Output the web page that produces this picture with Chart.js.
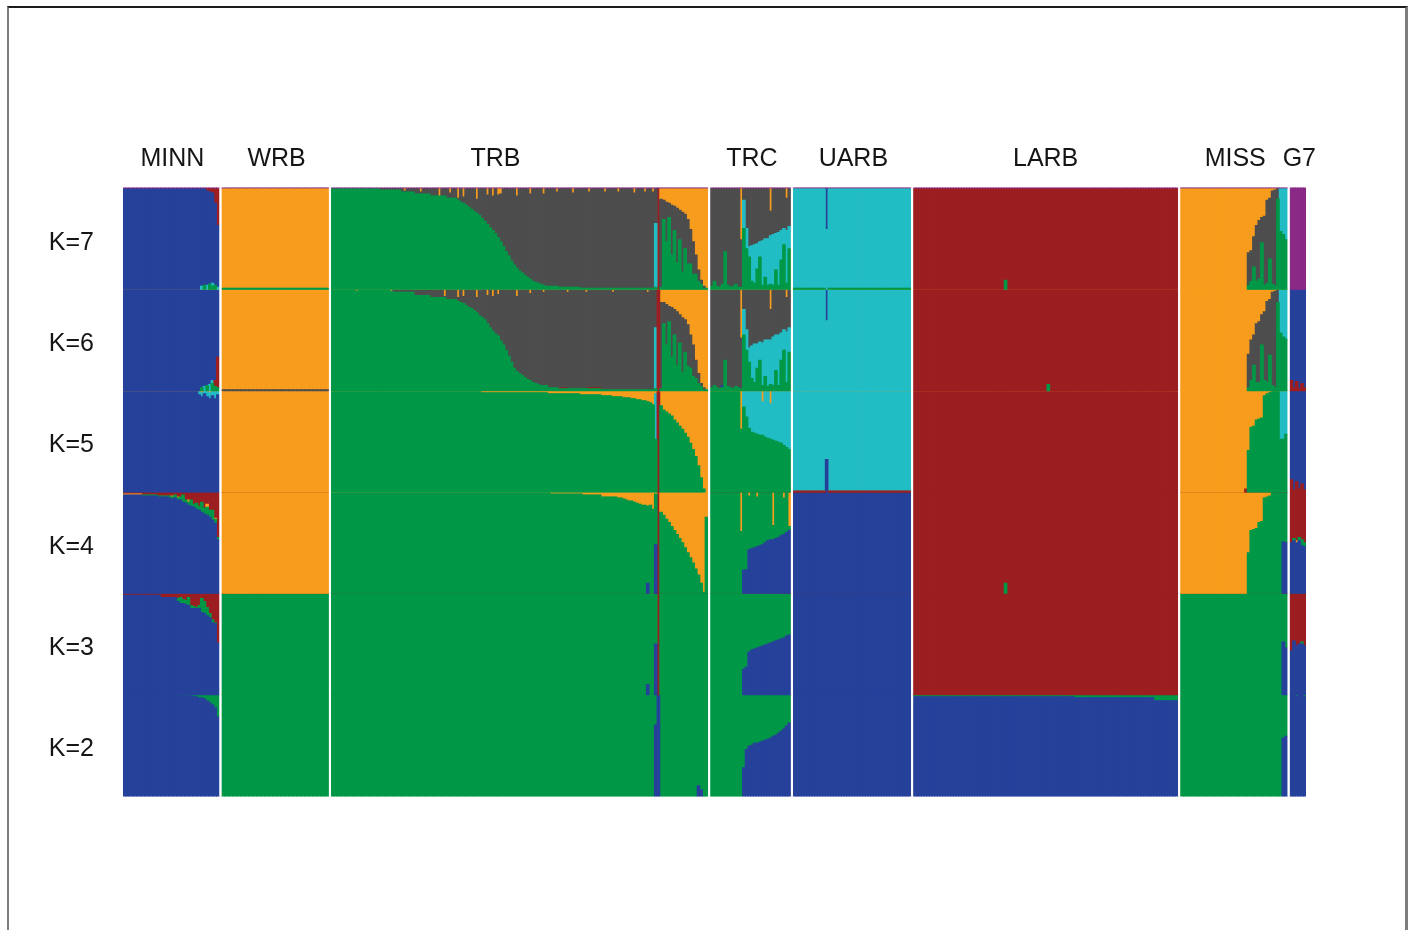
<!DOCTYPE html>
<html>
<head>
<meta charset="utf-8">
<script src="https://cdn.jsdelivr.net/npm/chart.js@4.4.1/dist/chart.umd.min.js"></script>
<style>
  html, body { margin: 0; padding: 0; background: #ffffff; }
  #wrap { position: relative; width: 1411px; height: 930px; overflow: hidden; background: #ffffff; }
  #chart { position: absolute; left: 0; top: 0; }
  #frame {
    position: absolute; left: 7px; top: 6px; width: 1396px; height: 1000px;
    border-top: 2px solid #1c1c1c; border-left: 2px solid #7d7d7d; border-right: 3px solid #7d7d7d;
    pointer-events: none;
  }
</style>
</head>
<body>
<div id="wrap">
  <canvas id="chart" width="1411" height="930"></canvas>
  <div id="frame"></div>
</div>
<script>
// Sampling groups, left to right, and the number of individuals in each
const populations = ['MINN', 'WRB', 'TRB', 'TRC', 'UARB', 'LARB', 'MISS', 'G7'];
const sampleSizes = [36, 40, 141, 30, 44, 99, 40, 6];
// individuals the group name is centred over (TRB's name sits over its first 122)
const labelSpans = [36, 40, 122, 30, 44, 99, 40, 6];

// Cluster colours: b blue, g green, c cyan, k grey, o orange, r red, p purple
const clusterColors = {
  b: '#26419a', g: '#009847', c: '#22bdc4', k: '#4d4d4d',
  o: '#f89c1d', r: '#9c1e21', p: '#8a2a86'
};

const rowLabels = ['K=7', 'K=6', 'K=5', 'K=4', 'K=3', 'K=2'];
// bottom-to-top stacking order of the clusters in each run
const stackOrders = [
  ['g', 'c', 'b', 'k', 'o', 'r', 'p'],
  ['g', 'r', 'c', 'b', 'k', 'o'],
  ['g', 'r', 'b', 'c', 'o'],
  ['b', 'g', 'o', 'r'],
  ['b', 'g', 'r'],
  ['b', 'g']
];

// Membership (%) per individual, as runs: [count, main cluster, {other clusters: %}]
// the main cluster takes whatever the others leave of 100.
const K7 = {
  MINN: [[29,'b',{p:1}],[1,'b',{c:3,p:1}],[1,'b',{g:4,p:1}],[1,'b',{c:4,r:2,p:1}],[1,'b',{g:5,r:3,p:1}],
         [1,'b',{g:3,c:3,r:4,p:1}],[1,'b',{g:4,r:14,p:1}],[1,'b',{c:2,r:36,p:1}]],
  WRB: [[40,'o',{g:1,p:1}]],
  TRB: [[18,'g',{p:1}],[8,'g',{k:1,p:1}],[1,'g',{k:3,p:1}],[1,'g',{k:1,o:2,p:1}],[3,'g',{k:3,p:1}],
        [2,'g',{k:5,p:1}],[1,'g',{k:2,o:3,p:1}],[3,'g',{k:5,p:1}],[3,'g',{k:7,p:1}],[1,'g',{o:7,p:1}],
        [2,'g',{k:7,p:1}],[1,'g',{k:9,p:1}],[1,'g',{k:5,o:4,p:1}],[2,'g',{k:9,p:1}],
        [1,'k',{g:88,o:9,p:1}],[1,'k',{g:86,p:1}],[1,'k',{g:85,o:8,p:1}],[1,'k',{g:83,p:1}],
        [1,'k',{g:81,p:1}],[1,'k',{g:79,p:1}],[1,'k',{g:77,p:1}],[1,'k',{g:75,o:10,p:1}],
        [1,'k',{g:73,p:1}],[1,'k',{g:70,p:1}],[1,'k',{g:67,p:1}],[1,'k',{g:64,o:6,p:1}],
        [1,'k',{g:61,p:1}],[1,'k',{g:58,o:7,p:1}],[1,'k',{g:55,p:1}],[1,'k',{g:51,o:6,p:1}],
        [1,'k',{g:47,o:5,p:1}],[1,'k',{g:42,p:1}],[1,'k',{g:37,p:1}],[1,'k',{g:33,p:1}],
        [1,'k',{g:28,p:1}],[1,'k',{g:24,p:1}],[1,'k',{g:21,o:7,p:1}],[1,'k',{g:18,p:1}],
        [1,'k',{g:16,p:1}],[1,'k',{g:14,p:1}],[1,'k',{g:12,p:1}],[1,'k',{g:10,o:5,p:1}],
        [1,'k',{g:8,p:1}],[1,'k',{g:7,p:1}],[1,'k',{g:6,p:1}],[1,'k',{g:5,p:1}],[1,'k',{g:4,o:5,p:1}],
        [4,'k',{g:3,p:1}],[1,'k',{g:3,o:3,p:1}],[5,'k',{g:2,p:1}],[1,'k',{g:2,o:4,p:1}],
        [2,'k',{g:2,p:1}],[3,'k',{g:1,p:1}],[1,'k',{g:1,o:3,p:1}],[5,'k',{g:1,p:1}],
        [1,'k',{g:1,o:3,p:1}],[4,'k',{g:1,p:1}],[1,'k',{g:1,o:3,p:1}],[5,'k',{g:1,p:1}],
        [1,'k',{g:1,o:4,p:1}],[3,'k',{g:1,p:1}],[1,'k',{g:1,o:3,p:1}],[2,'k',{g:1,p:1}],
        [1,'k',{g:1,o:3,p:1}],[1,'k',{g:2,c:63,p:1}],[1,'r',{p:1}],
        [1,'k',{g:2,o:10,p:1}],[1,'k',{g:69,o:11,p:1}],[1,'k',{g:47,o:13,p:1}],[1,'k',{g:71,o:14,p:1}],
        [1,'k',{g:34,o:16,p:1}],[1,'k',{g:58,o:17,p:1}],[1,'k',{g:26,o:19,p:1}],[1,'k',{g:49,o:21,p:1}],
        [1,'k',{g:17,o:23,p:1}],[1,'k',{g:40,o:25,p:1}],[1,'k',{g:25,o:30,p:1}],[1,'k',{g:25,o:40,p:1}],
        [1,'k',{g:15,o:52,p:1}],[1,'k',{g:15,o:65,p:1}],[1,'k',{g:8,o:80,p:1}],[1,'k',{g:5,o:90,p:1}],
        [1,'o',{k:2,g:1,p:1}],[1,'o',{g:1,p:1}]],
  TRC: [[1,'k',{g:3,p:1}],[1,'k',{g:8,p:1}],[1,'k',{g:3,p:1}],[1,'k',{g:2,p:1}],[1,'k',{g:5,p:1}],
        [1,'k',{g:37,p:1}],[1,'k',{g:4,p:1}],[1,'k',{g:2,p:1}],[1,'k',{g:3,p:1}],[1,'k',{g:5,p:1}],
        [1,'k',{g:2,p:1}],[1,'k',{g:2,o:50,p:1}],[1,'k',{g:60,c:28,p:1}],[1,'k',{g:40,c:20,p:1}],
        [1,'k',{g:32,c:10,p:1}],[1,'k',{g:8,c:35,p:1}],[1,'k',{g:6,c:38,p:1}],[1,'k',{g:20,c:25,p:1}],
        [1,'k',{g:32,c:15,p:1}],[1,'k',{g:4,c:44,p:1}],[1,'k',{g:12,c:38,p:1}],[1,'k',{g:4,c:46,p:1}],
        [1,'k',{g:5,c:48,o:22,p:1}],[1,'k',{g:4,c:50,p:1}],[1,'k',{g:19,c:36,p:1}],[1,'k',{g:4,c:52,p:1}],
        [1,'k',{g:29,c:29,p:1}],[1,'k',{g:44,c:16,p:1}],[1,'k',{g:6,c:52,o:9,p:1}],[1,'k',{g:40,c:22,p:1}]],
  UARB: [[12,'c',{g:1,p:1}],[1,'c',{b:40,p:1}],[31,'c',{g:1,p:1}]],
  LARB: [[34,'r',{p:1}],[1,'r',{g:9,p:1}],[64,'r',{p:1}]],
  MISS: [[25,'o',{p:1}],[1,'o',{k:32,g:4,p:1}],[1,'o',{k:30,g:8,p:1}],[1,'o',{k:30,g:22,p:1}],
         [1,'o',{k:55,g:8,p:1}],[1,'o',{k:58,g:10,p:1}],[1,'o',{k:25,g:46,p:1}],[1,'o',{k:68,g:4,p:1}],
         [1,'o',{k:82,g:6,p:1}],[1,'o',{k:60,g:30,p:1}],[1,'k',{o:2,g:5,p:1}],[1,'k',{o:1,g:3,p:1}],
         [1,'g',{k:10,p:1}],[1,'g',{c:42,p:1}],[1,'g',{c:45,p:1}],[1,'g',{c:50,p:1}]],
  G7: [[6,'p']]
};

const K6 = {
  MINN: [[29,'b',{o:1}],[1,'b',{g:3,o:1}],[1,'b',{c:4,o:1}],[1,'b',{g:5,o:1}],[1,'b',{c:6,o:1}],
         [1,'b',{g:7,c:3,o:1}],[1,'b',{g:4,r:6,o:1}],[1,'b',{g:3,r:30,o:1}]],
  WRB: [[40,'o',{k:1}]],
  TRB: [[9,'g',{o:1}],[1,'g',{o:2}],[12,'g',{o:1}],[1,'g',{o:2}],[8,'g',{k:2,o:1}],[6,'g',{k:5,o:1}],
        [5,'g',{k:7,o:1}],[1,'g',{k:1,o:7}],[4,'g',{k:9,o:1}],
        [1,'k',{g:88,o:8}],[1,'k',{g:87,o:1}],[1,'k',{g:86,o:7}],[1,'k',{g:84,o:1}],[1,'k',{g:82,o:1}],
        [1,'k',{g:81,o:1}],[1,'k',{g:79,o:1}],[1,'k',{g:77,o:8}],[1,'k',{g:74,o:1}],[1,'k',{g:72,o:1}],
        [1,'k',{g:70,o:1}],[1,'k',{g:66,o:6}],[1,'k',{g:62,o:1}],[1,'k',{g:59,o:7}],[1,'k',{g:56,o:1}],
        [1,'k',{g:54,o:5}],[1,'k',{g:49,o:1}],[1,'k',{g:45,o:1}],[1,'k',{g:40,o:1}],[1,'k',{g:34,o:1}],
        [1,'k',{g:28,o:1}],[1,'k',{g:22,o:1}],[1,'k',{g:19,o:7}],[1,'k',{g:17,o:1}],[1,'k',{g:15,o:1}],
        [1,'k',{g:13,o:1}],[1,'k',{g:11,o:1}],[1,'k',{g:10,o:4}],[1,'k',{g:8,o:1}],[1,'k',{g:7,o:1}],
        [1,'k',{g:6,o:1}],[1,'k',{g:5,o:1}],[1,'k',{g:5,o:3}],[1,'k',{g:5,o:1}],
        [4,'k',{g:3,o:1}],[3,'k',{g:2,r:1,o:1}],[1,'k',{g:2,o:3}],[6,'k',{g:2,o:1}],[1,'k',{g:2,o:3}],
        [5,'k',{g:2,r:1,o:1}],[4,'k',{g:1,o:1}],[1,'k',{g:1,o:3}],[12,'k',{g:1,o:1}],[1,'k',{g:1,o:3}],
        [2,'k',{g:1,o:1}],[1,'k',{g:2,c:60,o:1}],[1,'r',{o:1}],
        [1,'k',{g:2,o:13}],[1,'k',{g:66,o:13}],[1,'k',{g:45,o:15}],[1,'k',{g:68,o:17}],[1,'k',{g:33,o:18}],
        [1,'k',{g:55,o:20}],[1,'k',{g:25,o:22}],[1,'k',{g:47,o:25}],[1,'k',{g:18,o:28}],[1,'k',{g:38,o:30}],
        [1,'k',{g:24,o:35}],[1,'k',{g:22,o:45}],[1,'k',{g:14,o:55}],[1,'k',{g:12,o:70}],[1,'k',{g:7,o:83}],
        [1,'k',{g:4,o:93}],[1,'o',{k:2,g:1}],[1,'o',{g:1}]],
  TRC: [[1,'k',{g:3,o:1}],[1,'k',{g:5,o:1}],[1,'k',{g:3,o:1}],[1,'k',{g:2,o:1}],[1,'k',{g:3,b:2,o:1}],
        [1,'k',{g:30,o:1}],[1,'k',{g:4,o:1}],[1,'k',{g:3,o:1}],[1,'k',{g:2,o:1}],[1,'k',{g:4,o:1}],
        [1,'k',{g:3,o:1}],[1,'k',{g:2,o:48}],[1,'k',{g:55,c:25,o:1}],[1,'k',{g:40,c:20,o:1}],
        [1,'k',{g:28,c:14,o:1}],[1,'k',{g:12,c:32,o:1}],[1,'k',{g:8,c:38,o:1}],[1,'k',{g:22,c:24,o:1}],
        [1,'k',{g:30,c:18,o:1}],[1,'k',{g:5,c:42,o:1}],[1,'k',{g:14,c:36,o:1}],[1,'k',{g:4,c:46,o:1}],
        [1,'k',{g:6,c:44,o:20}],[1,'k',{g:5,c:48,o:1}],[1,'k',{g:20,c:35,o:1}],[1,'k',{g:5,c:50,o:1}],
        [1,'k',{g:30,c:27,o:1}],[1,'k',{g:40,c:20,o:1}],[1,'k',{g:8,c:50,o:8}],[1,'k',{g:38,c:24,o:1}]],
  UARB: [[12,'c',{o:1}],[1,'c',{b:30,o:1}],[31,'c',{o:1}]],
  LARB: [[50,'r',{o:1}],[1,'r',{g:6,o:1}],[48,'r',{o:1}]],
  MISS: [[25,'o'],[1,'o',{k:33,g:3}],[1,'o',{k:40,g:10}],[1,'o',{k:30,g:25}],[1,'o',{k:58,g:8}],
         [1,'o',{k:60,g:8}],[1,'o',{k:30,g:45}],[1,'o',{k:68,g:10}],[1,'o',{k:80,g:8}],[1,'o',{k:55,g:35}],
         [1,'k',{o:3,g:5}],[1,'k',{o:2,g:3}],[1,'g',{k:12,o:1}],[1,'g',{c:42,o:1}],[1,'g',{c:46,o:1}],
         [1,'g',{c:48,o:1}]],
  G7: [[1,'b',{r:10}],[1,'b',{r:3}],[1,'b',{r:9}],[1,'b',{r:2}],[1,'b',{r:7}],[1,'b',{r:3}]]
};

const K5 = {
  MINN: [[28,'b',{o:1}],[1,'b',{c:3,o:1}],[1,'b',{c:4,o:2}],[1,'b',{c:2,o:1}],[1,'b',{c:5,o:1}],
         [1,'b',{c:6,o:2}],[1,'b',{c:4,o:1}],[1,'b',{c:7,o:1}],[1,'b',{c:3,o:1}]],
  WRB: [[40,'o']],
  TRB: [[56,'g',{o:1}],[25,'g',{o:2}],[12,'g',{o:3}],[8,'g',{o:4}],[4,'g',{o:5}],[4,'g',{o:6}],
        [3,'g',{o:7}],[2,'g',{o:8}],[2,'g',{o:9}],[2,'g',{o:10}],[1,'g',{o:11}],[1,'g',{o:12}],
        [1,'g',{o:14}],[1,'g',{c:45,o:3}],[1,'r',{o:1}],
        [1,'g',{o:15}],[1,'g',{o:19}],[1,'g',{o:21}],[1,'g',{o:23}],[1,'g',{o:25}],[1,'g',{o:29}],
        [1,'g',{o:32}],[1,'g',{o:35}],[1,'g',{o:38}],[1,'g',{o:42}],[1,'g',{o:46}],[1,'g',{o:52}],
        [1,'g',{o:58}],[1,'g',{o:65}],[1,'g',{o:74}],[1,'g',{o:86}],[1,'g',{o:97}],[1,'o']],
  TRC: [[11,'g',{o:1}],[1,'g',{o:38}],[1,'g',{c:15,o:1}],[1,'g',{c:25,o:1}],[1,'g',{c:36,o:1}],
        [1,'g',{c:40,o:1}],[1,'g',{c:41,o:1}],[1,'g',{c:42,o:1}],[1,'g',{c:43,o:1}],[1,'g',{c:33,o:11}],
        [1,'g',{c:45,o:1}],[1,'g',{c:46,o:1}],[1,'g',{c:35,o:13}],[1,'g',{c:48,o:1}],[1,'g',{c:49,o:1}],
        [1,'g',{c:50,o:1}],[1,'g',{c:51,o:1}],[1,'g',{c:53,o:1}],[1,'g',{c:55,o:1}],[1,'g',{c:57,o:1}]],
  UARB: [[12,'c',{r:1,o:1}],[1,'c',{b:32,o:1}],[31,'c',{r:1,o:1}]],
  LARB: [[99,'r',{o:1}]],
  MISS: [[24,'o'],[1,'o',{r:3}],[1,'o',{g:41}],[1,'o',{g:64}],[1,'o',{g:65}],[1,'o',{g:71}],
         [1,'o',{g:72}],[1,'o',{g:73}],[1,'g',{o:5}],[1,'g',{o:3}],[1,'g',{o:2}],[3,'g',{o:1}],
         [1,'g',{c:47,o:1}],[1,'g',{c:47,o:1}],[1,'g',{c:42,o:1}]],
  G7: [[1,'b',{r:12}],[1,'b',{r:2}],[1,'b',{r:10}],[1,'b',{r:3}],[1,'b',{r:8}],[1,'b',{r:2}]]
};

const K4 = {
  MINN: [[7,'b',{r:2,o:1}],[6,'b',{g:1,r:3}],[4,'b',{g:1,r:4}],[1,'b',{g:2,r:4}],[1,'b',{g:2,o:1,r:4}],
         [1,'b',{g:3,r:3}],[1,'b',{g:2,o:1,r:5}],[1,'b',{g:3,r:5}],[1,'b',{g:7,r:3}],[1,'b',{g:3,r:8}],
         [1,'b',{g:3,o:2,r:8}],[1,'b',{g:6,r:8}],[1,'b',{g:3,r:12}],[1,'b',{g:6,r:11}],[1,'b',{g:4,r:14}],
         [1,'b',{g:10,r:10}],[1,'b',{g:6,r:16}],[1,'b',{g:8,o:3,r:12}],[1,'b',{g:7,r:18}],
         [1,'b',{g:10,r:18}],[1,'b',{g:4,o:1,r:26}],[1,'b',{g:2,r:45}]],
  WRB: [[40,'o',{r:1}]],
  TRB: [[82,'g',{o:1}],[12,'g',{o:2}],[7,'g',{o:3}],[6,'g',{o:5}],[2,'g',{o:6}],[1,'g',{o:7}],
        [1,'g',{o:8}],[2,'g',{o:9}],[1,'g',{o:10}],[1,'g',{o:11}],[1,'g',{o:12}],[2,'g',{o:13}],
        [1,'g',{b:10,o:14}],[1,'g',{o:13}],[1,'g',{o:17}],[1,'g',{b:48,o:2}],[1,'r'],
        [1,'g',{o:20}],[1,'g',{o:23}],[1,'g',{o:27}],[1,'g',{o:30}],[1,'g',{o:34}],[1,'g',{o:38}],
        [1,'g',{o:42}],[1,'g',{o:46}],[1,'g',{o:50}],[1,'g',{o:55}],[1,'g',{o:60}],[1,'g',{o:65}],
        [1,'g',{o:70}],[1,'g',{o:76}],[1,'g',{o:82}],[1,'g',{o:90}],[1,'o',{g:1}],[1,'g',{o:25}]],
  TRC: [[11,'g',{r:1}],[1,'g',{o:38,r:1}],[1,'g',{b:23,r:1}],[1,'g',{b:23,r:1}],[1,'g',{b:43,o:3,r:1}],
        [1,'g',{b:44,r:1}],[1,'g',{b:45,r:1}],[1,'g',{b:46,o:4,r:1}],[1,'g',{b:47,r:1}],[1,'g',{b:48,r:1}],
        [1,'g',{b:50,r:1}],[1,'g',{b:52,r:1}],[1,'g',{b:53,r:1}],[1,'g',{b:53,o:32,r:1}],[1,'g',{b:54,r:1}],
        [1,'g',{b:55,r:1}],[1,'g',{b:57,r:1}],[1,'g',{b:58,o:5,r:1}],[1,'g',{b:60,r:1}],[1,'g',{b:62,o:33,r:1}]],
  UARB: [[44,'b',{r:1}]],
  LARB: [[34,'r'],[1,'r',{g:10}],[64,'r']],
  MISS: [[25,'o',{r:1}],[1,'o',{g:40,r:1}],[1,'o',{g:62,r:1}],[1,'o',{g:63,r:1}],[1,'o',{g:64,r:1}],
         [1,'o',{g:70,r:1}],[1,'o',{g:71,r:1}],[1,'g',{o:5,r:1}],[1,'g',{o:4,r:1}],[1,'g',{o:3,r:1}],
         [4,'g',{r:1}],[1,'g',{b:51,r:1}],[1,'g',{b:50,r:1}]],
  G7: [[1,'b',{r:50}],[1,'b',{g:2,r:46}],[1,'b',{o:2,r:48}],[1,'b',{g:3,r:45}],[1,'b',{g:6,r:47}],[1,'b',{g:4,r:50}]]
};

const K3 = {
  MINN: [[14,'b',{r:2}],[6,'b',{r:4}],[1,'b',{g:3,r:5}],[1,'b',{g:6,r:4}],[1,'b',{g:4,r:6}],[1,'b',{g:4,r:7}],
         [1,'b',{g:8,r:4}],[1,'b',{g:3,r:12}],[1,'b',{g:2,r:13}],[1,'b',{g:1,r:14}],[1,'b',{g:3,r:12}],
         [1,'b',{g:14,r:5}],[1,'b',{g:12,r:8}],[1,'b',{g:8,r:14}],[1,'b',{g:4,r:20}],[1,'b',{g:3,r:26}],
         [1,'b',{g:1,r:29}],[1,'b',{r:49}]],
  WRB: [[40,'g',{r:1}]],
  TRB: [[118,'g',{r:1}],[1,'g',{b:10,r:1}],[2,'g',{r:1}],[1,'g',{b:50,r:1}],[1,'r'],[18,'g',{r:1}]],
  TRC: [[12,'g',{r:1}],[1,'g',{b:25,r:1}],[1,'g',{b:27,r:1}],[1,'g',{b:42,r:1}],[1,'g',{b:44,r:1}],
        [1,'g',{b:45,r:1}],[1,'g',{b:46,r:1}],[1,'g',{b:47,r:1}],[1,'g',{b:48,r:1}],[1,'g',{b:49,r:1}],
        [1,'g',{b:50,r:1}],[1,'g',{b:51,r:1}],[1,'g',{b:52,r:1}],[1,'g',{b:53,r:1}],[1,'g',{b:54,r:1}],
        [1,'g',{b:55,r:1}],[1,'g',{b:56,r:1}],[1,'g',{b:58,r:1}],[1,'g',{b:59,r:1}]],
  UARB: [[44,'b',{r:1}]],
  LARB: [[99,'r']],
  MISS: [[38,'g',{r:1}],[1,'g',{b:52,r:1}],[1,'g',{b:46,r:1}]],
  G7: [[1,'b',{r:57}],[1,'b',{r:47}],[1,'b',{r:52}],[1,'b',{r:50}],[1,'b',{g:2,r:48}],[1,'b',{r:52}]]
};

const K2 = {
  MINN: [[19,'b'],[7,'b',{g:1}],[2,'b',{g:2}],[2,'b',{g:3}],[1,'b',{g:4}],[1,'b',{g:6}],[1,'b',{g:8}],
         [1,'b',{g:10}],[1,'b',{g:13}],[1,'b',{g:22}]],
  WRB: [[40,'g']],
  TRB: [[121,'g'],[1,'g',{b:70}],[1,'b'],[14,'g'],[1,'g',{b:10}],[1,'g',{b:6}],[2,'g']],
  TRC: [[12,'g'],[1,'g',{b:28}],[1,'g',{b:46}],[1,'g',{b:49}],[1,'g',{b:50}],[1,'g',{b:52}],[1,'g',{b:52}],
        [1,'g',{b:53}],[1,'g',{b:54}],[1,'g',{b:55}],[1,'g',{b:56}],[1,'g',{b:57}],[1,'g',{b:59}],
        [1,'g',{b:60}],[1,'g',{b:62}],[1,'g',{b:64}],[1,'g',{b:66}],[1,'g',{b:69}],[1,'g',{b:72}]],
  UARB: [[44,'b']],
  LARB: [[60,'b',{g:2}],[30,'b',{g:3}],[9,'b',{g:6}]],
  MISS: [[38,'g'],[1,'g',{b:57}],[1,'g',{b:59}]],
  G7: [[2,'b'],[1,'b',{g:2}],[2,'b'],[1,'b',{g:2}]]
};

const rowData = [K7, K6, K5, K4, K3, K2];

// ---- build the category axis: one slot per individual, one empty slot between groups ----
function expandRuns(runs) {
  const out = [];
  for (const [n, main, others] of runs) {
    const extra = others || {};
    let used = 0;
    for (const v of Object.values(extra)) used += v;
    for (let i = 0; i < n; i++) out.push(Object.assign({ [main]: 100 - used }, extra));
  }
  return out;
}

const slots = [];
const xLabels = [];
populations.forEach((name, p) => {
  if (p > 0) { slots.push(null); xLabels.push(''); }
  const mid = Math.floor(labelSpans[p] / 2);
  for (let i = 0; i < sampleSizes[p]; i++) {
    slots.push({ p, i });
    xLabels.push(i === mid ? name : '');
  }
});

const FONT = "'Liberation Sans', Arial, sans-serif";
const TEXT = '#151515';
// bars may spill a pixel into the neighbouring run so rows meet without seams,
// but stay inside the plot on the left and right
const ROW_CLIP = { left: 0, right: 0, top: 1, bottom: 1 };
const datasets = [];
const scales = {
  x: {
    type: 'category', position: 'top', stacked: true, offset: true,
    grid: { display: false, drawTicks: false }, border: { display: false },
    ticks: { autoSkip: false, maxRotation: 0, minRotation: 0, padding: 14,
             color: TEXT, font: { family: FONT, size: 25 } },
    afterFit: s => { s.height = 188; s.paddingLeft = 0; s.paddingRight = 0; }
  }
};

rowData.forEach((row, r) => {
  const bars = populations.map((name, p) => {
    const list = expandRuns(row[name]);
    if (list.length !== sampleSizes[p]) console.warn(rowLabels[r], name, list.length);
    return list;
  });
  const axisId = 'y' + r;
  stackOrders[r].forEach(cl => {
    datasets.push({
      label: rowLabels[r] + ' ' + cl,
      data: slots.map(s => {
        if (!s) return null;
        const v = bars[s.p][s.i] ? bars[s.p][s.i][cl] : 0;
        return v ? v : null;
      }),
      backgroundColor: clusterColors[cl],
      borderWidth: 0,
      inflateAmount: 0.5,
      barPercentage: 1,
      categoryPercentage: 1,
      grouped: false,
      clip: ROW_CLIP,
      stack: 'membership',
      yAxisID: axisId
    });
  });
  // white divider between neighbouring groups, drawn over the bars
  datasets.push({
    label: rowLabels[r] + ' divider',
    data: slots.map(s => (s ? null : 100)),
    backgroundColor: '#ffffff',
    borderWidth: 0,
    inflateAmount: 0,
    barPercentage: 0.8,
    categoryPercentage: 1,
    grouped: false,
    clip: ROW_CLIP,
    stack: 'membership',
    order: -1,
    yAxisID: axisId
  });
  scales[axisId] = {
    type: 'linear', position: 'left', stack: 'rows', stackWeight: 1, weight: rowData.length - r,
    min: 0, max: 100, stacked: true, offset: false,
    grid: { display: false, drawTicks: false }, border: { display: false },
    afterBuildTicks: s => { s.ticks = [{ value: 46 }]; },
    ticks: { callback: () => rowLabels[r], padding: 29, color: TEXT,
             font: { family: FONT, size: 25 } },
    afterFit: s => { s.width = 123; s.paddingTop = 0; s.paddingBottom = 0; }
  };
});

new Chart(document.getElementById('chart'), {
  type: 'bar',
  data: { labels: xLabels, datasets },
  options: {
    responsive: false,
    animation: false,
    devicePixelRatio: 1,
    layout: { padding: { top: 0, left: 0, right: 105, bottom: 134 } },
    plugins: { legend: { display: false }, tooltip: { enabled: false } },
    scales
  }
});
</script>
</body>
</html>
